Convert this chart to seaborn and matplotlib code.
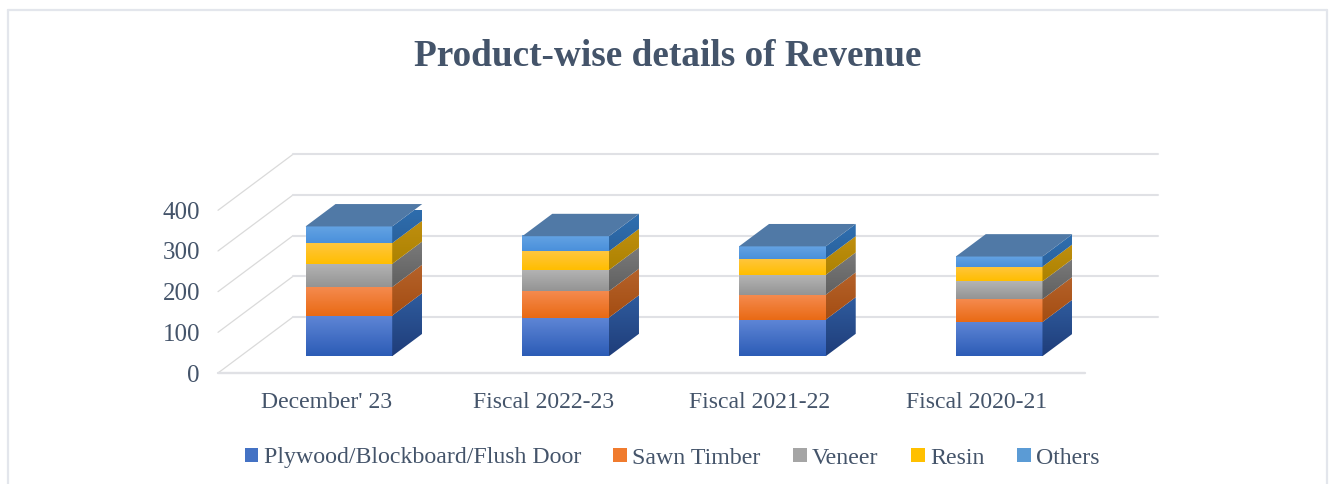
import numpy as np
import matplotlib
matplotlib.use("Agg")
import matplotlib.pyplot as plt
import seaborn as sns
from matplotlib.patches import Polygon, Patch
from matplotlib.lines import Line2D
from matplotlib.transforms import Affine2D

categories = ["December' 23", "Fiscal 2022-23", "Fiscal 2021-22", "Fiscal 2020-21"]
plywood = [100, 95, 90, 84]
sawn_timber = [70, 65, 61, 56]
veneer = [57, 52, 49, 44]
resin = [51, 46, 40, 36]
others = [41, 37, 30, 25]
series_names = ["Plywood/Blockboard/Flush Door", "Sawn Timber", "Veneer", "Resin", "Others"]
series_values = [plywood, sawn_timber, veneer, resin, others]
y_ticks = [0, 100, 200, 300, 400]

front_top = ["#5F86D6", "#F58A4E", "#B4B4B4", "#FFC63F", "#64A3E3"]
front_bot = ["#2C5CB6", "#E96A14", "#949494", "#FFBE00", "#4A90DB"]
side_top = ["#2F5C9E", "#B5622A", "#7A7A7A", "#BF8F10", "#2F6FB0"]
side_bot = ["#1F3D7A", "#A44D12", "#606060", "#AD8200", "#2A629E"]
legend_col = ["#4472C4", "#F07B2E", "#A5A5A5", "#FFC000", "#5B9BD5"]
text_col = "#44546A"
grid_col = "#E0E1E5"

sns.set_theme(style="white")
plt.rcParams["font.family"] = ["Liberation Serif", "DejaVu Serif"]

W, H = 1332, 484
fig = plt.figure(figsize=(W / 100, H / 100), dpi=100)
fig.patch.set_facecolor("white")
ax = fig.add_axes([218 / W, 1 - 373 / H, 867 / W, 162.7 / H])
ax.patch.set_alpha(0)
for s in ax.spines.values():
    s.set_visible(False)

# 3D projection: depth d=0 front of the floor, 1 back wall
DX = 75 / (867 / 4)      # x data units per full depth
DY = 56 / (162.7 / 400)  # value units per full depth
BAR_D0, BAR_D1 = 0.30, 0.70
BAR_W = 0.40


def proj(x, v, d):
    return x + d * DX, v + d * DY


def grad(x0, x1, y0, y1, c_top, c_bot, z, clip=None):
    cm = matplotlib.colors.LinearSegmentedColormap.from_list("g", [c_bot, c_top])
    im = ax.imshow(np.linspace(1, 0, 64)[:, None], cmap=cm, vmin=0, vmax=1, aspect="auto",
                   extent=(x0, x1, y0, y1), zorder=z, interpolation="bilinear")
    if clip is not None:
        im.set_clip_path(clip)
    else:
        im.set_clip_on(False)
    return im


df_x = np.arange(len(categories))
cum = np.zeros(len(categories))
offset = Affine2D().translate(BAR_D0 * DX, BAR_D0 * DY) + ax.transData
for name, vals, col in zip(series_names, series_values, legend_col):
    n0 = len(ax.patches)
    sns.barplot(x=categories, y=vals, bottom=cum, color=col, width=BAR_W, ax=ax, saturation=1, zorder=3)
    for p in ax.patches[n0:]:
        p.set_transform(offset)
        p.set_clip_on(False)
    cum = cum + np.array(vals)

ax.set_xlim(-0.5, 3.5)
ax.set_ylim(0, 400)
ax.set_autoscale_on(False)

# walls
for v in y_ticks:
    ax.plot(*zip(proj(-0.5, v, 0), proj(-0.5, v, 1)), color="#DADADA", lw=0.9, clip_on=False, zorder=1)
    ax.plot(*zip(proj(-0.5, v, 1), proj(3.49, v, 1)), color=grid_col, lw=1.5, clip_on=False, zorder=1)
ax.plot(*zip(proj(-0.5, 0, 0), proj(3.5, 0, 0)), color=grid_col, lw=1.7, clip_on=False, zorder=1)

# gradient faces built from the stacked values
for i in range(len(categories)):
    base = 0.0
    xl, xr = i - BAR_W / 2, i + BAR_W / 2
    for k, vals in enumerate(series_values):
        top = base + vals[i]
        x0, y0 = proj(xl, base, BAR_D0)
        x1, y1 = proj(xr, top, BAR_D0)
        grad(x0, x1, y0, y1, front_top[k], front_bot[k], 4)
        side = [proj(xr, base, BAR_D0), proj(xr, base, BAR_D1), proj(xr, top, BAR_D1), proj(xr, top, BAR_D0)]
        poly = Polygon(side, closed=True, transform=ax.transData, fc="none", ec="none", clip_on=False)
        ax.add_patch(poly)
        pts = np.array(side)
        sx0, sx1 = pts[:, 0].min(), pts[:, 0].max()
        sy0, sy1 = pts[:, 1].min(), pts[:, 1].max()
        im = grad(sx0, sx1, sy0, sy1, side_top[k], side_bot[k], 4, clip=poly)
        base = top
    roof = [proj(xl, base, BAR_D0), proj(xr, base, BAR_D0), proj(xr, base, BAR_D1), proj(xl, base, BAR_D1)]
    ax.add_patch(Polygon(roof, closed=True, fc="#5079A6", ec="none", clip_on=False, zorder=4))

ax.set_yticks(y_ticks)
ax.set_yticklabels([str(v) for v in y_ticks])
ax.set_xticks(df_x)
ax.set_xticklabels(categories)
ax.set_xlabel("")
ax.tick_params(axis="y", length=0, pad=13, labelsize=18, labelcolor=text_col)
ax.tick_params(axis="x", length=0, pad=14, labelsize=17.1, labelcolor=text_col)

fig.text(667.5 / W, 1 - 56 / H, "Product-wise details of Revenue", ha="center", va="center",
         fontsize=26.8, fontweight="bold", color=text_col)

handles = [Patch(facecolor=c, edgecolor="none", label=n) for c, n in zip(legend_col, series_names)]
fig.legend(handles=handles, loc="center", bbox_to_anchor=(672 / W, 1 - 458 / H), ncol=5, frameon=False,
           fontsize=17.2, labelcolor=text_col, handlelength=0.58, handleheight=0.58, handletextpad=0.22,
           columnspacing=1.35, borderpad=0, borderaxespad=0)

# outer frame
for xs, ys in [((8, 8), (484, 10)), ((8, 1327), (10, 10)), ((1327, 1327), (10, 484))]:
    fig.add_artist(Line2D([x / W for x in xs], [1 - y / H for y in ys], color="#E3E6EC", lw=1.6))

fig.savefig("out.png", dpi=100)
